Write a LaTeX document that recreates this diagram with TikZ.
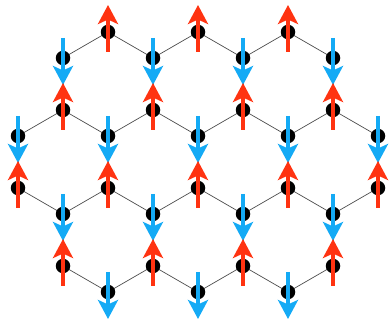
\documentclass[tikz,border=0pt]{standalone}
\usetikzlibrary{arrows.meta}
\definecolor{spinred}{RGB}{255,51,17}
\definecolor{spinblue}{RGB}{20,170,245}
\begin{document}
\begin{tikzpicture}[x=1pt,y=-1pt,
  site/.style={circle,fill=black,inner sep=0pt,minimum size=14.5pt},
  bond/.style={draw=black!70,line width=0.7pt},
  spinhead/.style={-{Stealth[length=19pt,width=20pt,inset=4.5pt]}},
  upspin/.style={draw=spinred,line width=4.2pt,spinhead},
  downspin/.style={draw=spinblue,line width=4.2pt,spinhead}]
\useasboundingbox (0,0) rectangle (389,326);
% lattice sites
\foreach \r/\y/\ks in {0/32/{2,4,6},1/58/{1,3,5,7},2/110/{1,3,5,7},3/136/{0,2,4,6,8},4/188/{0,2,4,6,8},5/214/{1,3,5,7},6/266/{1,3,5,7},7/292/{2,4,6}}
  \foreach \k in \ks \coordinate (v-\r-\k) at (18+45*\k,\y);
% bonds
\foreach \k [evaluate=\k as \km using int(\k-1), evaluate=\k as \kp using int(\k+1)] in {2,4,6}
  \draw[bond] (v-1-\km) -- (v-0-\k) -- (v-1-\kp);
\foreach \k in {1,3,5,7} \draw[bond] (v-1-\k) -- (v-2-\k);
\foreach \k [evaluate=\k as \km using int(\k-1), evaluate=\k as \kp using int(\k+1)] in {1,3,5,7}
  \draw[bond] (v-3-\km) -- (v-2-\k) -- (v-3-\kp);
\foreach \k in {0,2,4,6,8} \draw[bond] (v-3-\k) -- (v-4-\k);
\foreach \k [evaluate=\k as \km using int(\k-1), evaluate=\k as \kp using int(\k+1)] in {1,3,5,7}
  \draw[bond] (v-4-\km) -- (v-5-\k) -- (v-4-\kp);
\foreach \k in {1,3,5,7} \draw[bond] (v-5-\k) -- (v-6-\k);
\foreach \k [evaluate=\k as \km using int(\k-1), evaluate=\k as \kp using int(\k+1)] in {2,4,6}
  \draw[bond] (v-6-\km) -- (v-7-\k) -- (v-6-\kp);
% dots
\foreach \r/\ks in {0/{2,4,6},1/{1,3,5,7},2/{1,3,5,7},3/{0,2,4,6,8},4/{0,2,4,6,8},5/{1,3,5,7},6/{1,3,5,7},7/{2,4,6}}
  \foreach \k in \ks \node[site] (s-\r-\k) at (v-\r-\k) {};
% spins
\foreach \r/\ks/\sp in {0/{2,4,6}/up,1/{1,3,5,7}/down,2/{1,3,5,7}/up,3/{0,2,4,6,8}/down,4/{0,2,4,6,8}/up,5/{1,3,5,7}/down,6/{1,3,5,7}/up,7/{2,4,6}/down}
  \foreach \k in \ks {
    \ifnum\pdfstrcmp{\sp}{up}=0
      \draw[upspin] ([yshift=-20pt]s-\r-\k.center) -- ([yshift=27pt]s-\r-\k.center);
    \else
      \draw[downspin] ([yshift=20pt]s-\r-\k.center) -- ([yshift=-27pt]s-\r-\k.center);
    \fi
  };
\end{tikzpicture}
\end{document}
